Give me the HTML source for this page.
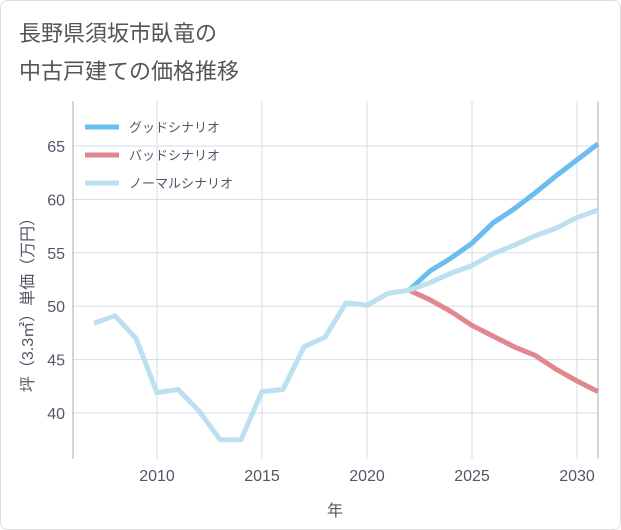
<!DOCTYPE html>
<html><head><meta charset="utf-8"><style>
body{margin:0;background:#fff;font-family:"Liberation Sans","Noto Sans CJK JP",sans-serif}
#wrap{position:relative;width:621px;height:530px;box-sizing:border-box;border:1px solid #ddd;border-radius:8px;overflow:hidden;background:#fff}
</style></head><body>
<div id="wrap">
<svg id="chart" width="621" height="530"></svg>
</div>
<script>
const years=[2007,2008,2009,2010,2011,2012,2013,2014,2015,2016,2017,2018,2019,2020,2021,2022,2023,2024,2025,2026,2027,2028,2029,2030,2031];
const normal=[48.4,49.1,47.0,41.9,42.2,40.2,37.5,37.5,42.0,42.2,46.2,47.1,50.3,50.1,51.2,51.5,52.2,53.1,53.8,54.9,55.7,56.6,57.3,58.3,59.0];
const futureYears=[2022,2023,2024,2025,2026,2027,2028,2029,2030,2031];
const good=[51.5,53.3,54.5,55.9,57.8,59.1,60.6,62.2,63.7,65.2];
const bad=[51.5,50.6,49.5,48.2,47.2,46.2,45.4,44.1,43.0,42.0];
const xTicks=[2010,2015,2020,2025,2030];
const yTicks=[40,45,50,55,60,65];
const NS='http://www.w3.org/2000/svg';
const svg=document.getElementById('chart');
const L=72,R=597,T=100,B=458;
const x=v=>156+(v-2010)*21;
const y=v=>145+(65-v)*(267/25);
function mk(tag,attrs,parent){const e=document.createElementNS(NS,tag);for(const k in attrs)e.setAttribute(k,attrs[k]);(parent||svg).appendChild(e);return e;}
function txt(s,attrs){const e=mk('text',attrs);e.textContent=s;return e;}
let t=txt('長野県須坂市臥竜の',{x:18,y:40,'font-size':22,fill:'#555'});


t=txt('中古戸建ての価格推移',{x:18,y:78,'font-size':22,fill:'#555'});


xTicks.forEach(v=>{const g=mk('line',{x1:x(v),x2:x(v),y1:T,y2:B,stroke:'#d3dde8','stroke-width':1});


const l=txt(String(v),{x:x(v),y:480,'text-anchor':'middle','font-size':16,fill:'#556'});

});
yTicks.forEach(v=>{const g=mk('line',{x1:L,x2:R,y1:y(v),y2:y(v),stroke:'#d3dde8','stroke-width':1});


const l=txt(String(v),{x:64,y:y(v)+6,'text-anchor':'end','font-size':16,fill:'#556'});

});
let a=mk('line',{x1:L,x2:L,y1:T,y2:B,stroke:'#aab','stroke-width':1});


a=mk('line',{x1:R,x2:R,y1:T,y2:B,stroke:'#aab','stroke-width':1});


t=txt('年',{x:334,y:515,'text-anchor':'middle','font-size':16,fill:'#556'});


t=txt('坪（3.3㎡）単価（万円）',{x:0,y:0,'text-anchor':'middle','font-size':16,fill:'#556',transform:'translate(32,300) rotate(-90)'});


function line(xs,vals,color,name){const p=mk('polyline',{points:xs.map((yr,i)=>x(yr)+','+y(vals[i])).join(' '),fill:'none',stroke:color,'stroke-width':5,'stroke-linejoin':'round'});

}
line(futureYears,bad,'#e0878f','bad-scenario-line');
line(futureYears,good,'#6bbdf0','good-scenario-line');
line(years,normal,'#bde0ef','normal-scenario-line');
const legendLabels=['グッドシナリオ','バッドシナリオ','ノーマルシナリオ'];
const legendColors=['#6bbdf0','#e0878f','#bde0ef'];
legendLabels.forEach((s,i)=>{const yy=126+i*28;
const g=mk('line',{x1:84,x2:118,y1:yy,y2:yy,stroke:legendColors[i],'stroke-width':5});


const l=txt(s,{x:128,y:yy+5,'font-size':13,fill:'#556'});

});
</script>
</body></html>
